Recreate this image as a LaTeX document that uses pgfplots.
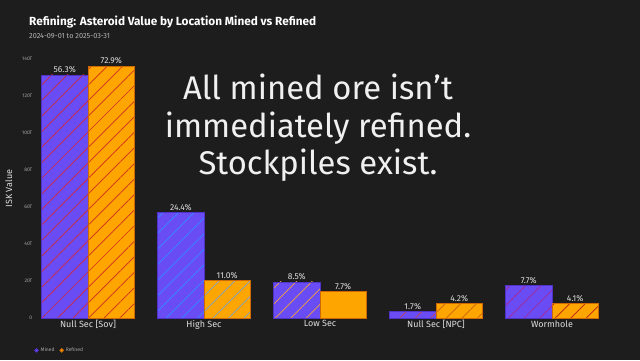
\documentclass[border=0pt]{standalone}
\usepackage{fontspec}
\setmainfont{Fira Sans}
\usepackage{pgfplots}
\pgfplotsset{compat=1.18}
\usetikzlibrary{patterns.meta}
\definecolor{bg}{RGB}{29,29,29}
\definecolor{mined}{RGB}{106,76,245}
\definecolor{minededge}{RGB}{80,50,200}
\definecolor{refined}{RGB}{255,165,0}
\definecolor{refinededge}{RGB}{205,105,0}
\definecolor{txt}{RGB}{222,222,222}
\definecolor{tickc}{RGB}{165,165,165}
\definecolor{hA}{RGB}{205,40,60}
\definecolor{hB}{RGB}{210,45,35}
\definecolor{hC}{RGB}{50,140,255}
\definecolor{hD}{RGB}{120,160,200}
\definecolor{hE}{RGB}{240,160,60}
\definecolor{hF}{RGB}{190,70,90}
\definecolor{hG}{RGB}{200,100,20}
\definecolor{hH}{RGB}{170,40,140}
\definecolor{hI}{RGB}{190,30,20}
\newcommand{\mbar}[4]{\addplot[ybar,bar width=0.4,bar shift=-0.2,fill=mined,draw=minededge,line width=0.6pt,
  every node near coord/.append style={xshift=-23.2pt},
  postaction={pattern={Lines[angle=45,distance=11pt,line width=0.7pt]},pattern color=#1}] coordinates {(#2,#3) [#4]};}
\newcommand{\rbar}[4]{\addplot[ybar,bar width=0.4,bar shift=0.2,fill=refined,draw=refinededge,line width=0.6pt,
  every node near coord/.append style={xshift=23.2pt},
  postaction={pattern={Lines[angle=45,distance=11pt,line width=0.7pt]},pattern color=#1}] coordinates {(#2,#3) [#4]};}
\begin{document}
\begin{tikzpicture}
\fill[bg] (0pt,0pt) rectangle (640pt,360pt);
\useasboundingbox (0pt,0pt) rectangle (640pt,360pt);
\begin{axis}[
  at={(35.8pt,42pt)}, anchor=south west,
  scale only axis, width=568.4pt, height=259pt,
  xmin=-0.45, xmax=4.45, ymin=0, ymax=140,
  axis x line*=bottom, axis y line*=left,
  axis line style={draw=none}, major tick length=0pt,
  xtick={0,1,2,3,4},
  xticklabels={Null Sec [Sov],High Sec,Low Sec,Null Sec [NPC],Wormhole},
  xticklabel style={font=\fontsize{9}{10}\selectfont, text=txt, yshift=1pt},
  ytick={0,20,40,60,80,100,120,140},
  yticklabels={0,20T,40T,60T,80T,100T,120T,140T},
  yticklabel style={font=\fontsize{5}{6}\selectfont, text=tickc},
  every axis y label/.style={at={(axis description cs:0,0.5)}, xshift=-27pt, rotate=90, anchor=center},
  ylabel={ISK Value},
  ylabel style={font=\fontsize{9}{10}\selectfont, text=txt},
  nodes near coords, point meta=explicit symbolic,
  every node near coord/.append style={font=\fontsize{8.5}{9}\selectfont, text=txt, anchor=south, inner sep=1.5pt},
  legend style={at={(-0.008,-0.125)}, anchor=west, draw=none, fill=none, font=\fontsize{5}{6}\selectfont, text=tickc,
    /tikz/every even column/.append style={column sep=3pt}},
  legend columns=2,
  legend image code/.code={\fill[#1] (0.1cm,0cm) circle (1.8pt);},
]
\mbar{hA}{0}{131.4}{56.3\%}
\rbar{hB}{0}{136.2}{72.9\%}
\mbar{hC}{1}{56.9}{24.4\%}
\rbar{hD}{1}{20.5}{11.0\%}
\mbar{hE}{2}{19.5}{8.5\%}
\rbar{refined}{2}{14.2}{7.7\%}
\mbar{hF}{3}{3.6}{1.7\%}
\rbar{hG}{3}{7.7}{4.2\%}
\mbar{hH}{4}{17.8}{7.7\%}
\rbar{hI}{4}{7.7}{4.1\%}
\addlegendimage{mined}
\addlegendentry{Mined}
\addlegendimage{refined}
\addlegendentry{Refined}
\end{axis}
\node[anchor=base west, text=white, font=\bfseries\fontsize{11.8}{13}\selectfont, inner sep=0pt] at (29pt,335pt) {Refining: Asteroid Value by Location Mined vs Refined};
\node[anchor=base west, text=tickc!80!white, font=\fontsize{7.3}{8}\selectfont, inner sep=0pt] at (29pt,322pt) {2024-09-01 to 2025-03-31};
\node[align=center, text=white!94!black, font=\fontsize{32.8}{37.5}\selectfont, inner sep=0pt] at (318pt,232pt) {All mined ore isn’t\\immediately refined.\\Stockpiles exist.};
\end{tikzpicture}
\end{document}
